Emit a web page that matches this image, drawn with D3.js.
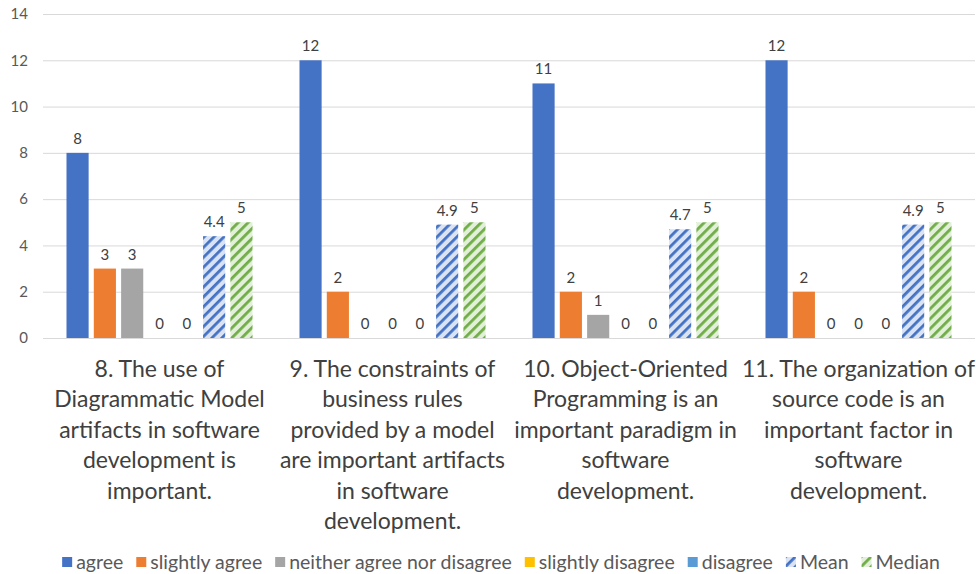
<!DOCTYPE html>
<html>
<head>
<meta charset="utf-8">
<script src="https://cdn.jsdelivr.net/npm/d3@7"></script>
<style>
  html, body { margin: 0; padding: 0; background: #fff; }
  svg { display: block; font-family: Lato, "Open Sans", sans-serif; }
</style>
</head>
<body>
<svg id="chart" width="976" height="574"></svg>
<script>
// Survey questions (x categories), one line per array entry
const categories = ["Q8", "Q9", "Q10", "Q11"];
const categoryLines = [
  ["8. The use of", "Diagrammatic Model", "artifacts in software", "development is", "important."],
  ["9. The constraints of", "business rules", "provided by a model", "are important artifacts", "in software", "development."],
  ["10. Object-Oriented", "Programming is an", "important paradigm in", "software", "development."],
  ["11. The organization of", "source code is an", "important factor in", "software", "development."]
];

// Response series
const seriesNames = ["agree", "slightly agree", "neither agree nor disagree", "slightly disagree", "disagree", "Mean", "Median"];
const agree             = [8, 12, 11, 12];
const slightlyAgree     = [3, 2, 2, 2];
const neither           = [3, 0, 1, 0];
const slightlyDisagree  = [0, 0, 0, 0];
const disagree          = [0, 0, 0, 0];
const mean              = [4.4, 4.9, 4.7, 4.9];
const median            = [5, 5, 5, 5];
const seriesValues = [agree, slightlyAgree, neither, slightlyDisagree, disagree, mean, median];

const yTicks = [0, 2, 4, 6, 8, 10, 12, 14];

// Styles
const solidColors = ["#4472C4", "#ED7D31", "#A5A5A5", "#FFC000", "#5B9BD5"];
const stripe = { Mean: { fg: "#4472C4", bg: "#DAE3F3" }, Median: { fg: "#70AD47", bg: "#E2F0D9" } };

const svg = d3.select("#chart");
const plot = { left: 43, right: 975, top: 14, bottom: 338 };

// Diagonal stripe patterns for Mean / Median
const defs = svg.append("defs");
Object.entries(stripe).forEach(([name, c]) => {
  const p = defs.append("pattern")
    .attr("id", "pat-" + name)
    .attr("patternUnits", "userSpaceOnUse")
    .attr("width", 7).attr("height", 7)
    .attr("patternTransform", "rotate(45)");
  p.append("rect").attr("width", 7).attr("height", 7).attr("fill", c.bg);
  p.append("rect").attr("x", 0).attr("width", 2.8).attr("height", 7).attr("fill", c.fg);
});
function fillFor(i) {
  const n = seriesNames[i];
  return stripe[n] ? "url(#pat-" + n + ")" : solidColors[i];
}

const y = d3.scaleLinear().domain([0, 14]).range([plot.bottom, plot.top]);
const x0 = d3.scaleBand().domain(categories).range([plot.left, plot.right]);
const x1 = d3.scaleBand().domain(seriesNames).range([0, x0.bandwidth()])
  .paddingInner(0.19).paddingOuter(0.86);

// Gridlines + y tick labels
const yAxis = d3.axisLeft(y).tickValues(yTicks).tickSize(-(plot.right - plot.left)).tickPadding(15);
const ga = svg.append("g").attr("transform", `translate(${plot.left},0)`).call(yAxis);
ga.select(".domain").remove();
ga.selectAll(".tick line").attr("stroke", "#D9D9D9").attr("stroke-width", 1);
ga.selectAll(".tick text")
  .attr("fill", "#595959")
  .style("font-size", "15px")
  .style("font-family", "Lato, sans-serif");

// Bars
const groups = svg.append("g").selectAll("g")
  .data(categories)
  .join("g")
  .attr("transform", d => `translate(${x0(d)},0)`);

groups.each(function (cat, ci) {
  const g = d3.select(this);
  seriesNames.forEach((s, si) => {
    const v = seriesValues[si][ci];
    if (v > 0) {
      g.append("rect")
        .attr("x", x1(s))
        .attr("y", y(v))
        .attr("width", x1.bandwidth())
        .attr("height", y(0) - y(v))
        .attr("fill", fillFor(si));
    }
    g.append("text")
      .attr("x", x1(s) + x1.bandwidth() / 2)
      .attr("y", y(v) - 9)
      .attr("text-anchor", "middle")
      .attr("fill", "#404040")
      .style("font-size", "15px")
      .text(v);
  });
});

// Category labels under each group
categories.forEach((cat, ci) => {
  const t = svg.append("text")
    .attr("x", x0(cat) + x0.bandwidth() / 2)
    .attr("y", 377)
    .attr("text-anchor", "middle")
    .attr("fill", "#404040")
    .style("font-size", "23px");
  categoryLines[ci].forEach((line, li) => {
    t.append("tspan")
      .attr("x", x0(cat) + x0.bandwidth() / 2)
      .attr("dy", li === 0 ? 0 : 30.4)
      .text(line);
  });
});

// Legend
const legend = svg.append("g");
const legendY = 562;
const gap = 13;
const items = [];
let cx = 0;
seriesNames.forEach((s, si) => {
  const item = legend.append("g");
  item.append("rect")
    .attr("x", 0).attr("y", legendY - 5)
    .attr("width", 10).attr("height", 10)
    .attr("fill", fillFor(si));
  const label = item.append("text")
    .attr("x", 14).attr("y", legendY)
    .attr("dy", "0.35em")
    .attr("fill", "#595959")
    .style("font-size", "19.5px")
    .text(s);
  const w = 14 + label.node().getComputedTextLength();
  items.push({ item, x: cx });
  cx += w + gap;
});
const total = cx - gap;
const startX = 501 - total / 2;
items.forEach(d => d.item.attr("transform", `translate(${startX + d.x},0)`));
</script>
</body>
</html>
